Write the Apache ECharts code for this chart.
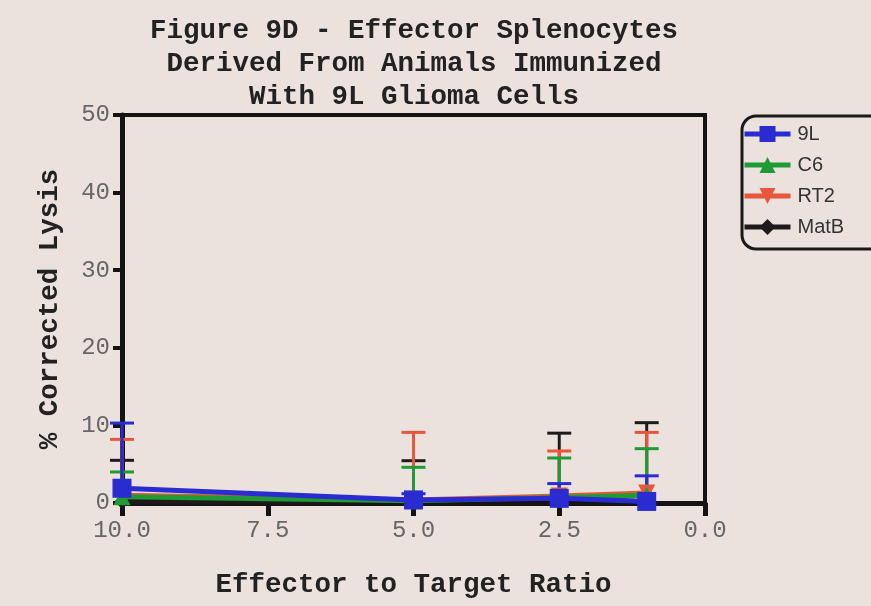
<!DOCTYPE html>
<html>
<head>
<meta charset="utf-8">
<script src="https://cdn.jsdelivr.net/npm/echarts@6/dist/echarts.min.js"></script>
<style>
  html, body { margin: 0; padding: 0; background: #ebe2dd; }
  #chart { width: 871px; height: 606px; }
</style>
</head>
<body>
<div id="chart"></div>
<script>
// effector : target ratios
const ratios = [10, 5, 2.5, 1];
const seriesNames = ['9L', 'C6', 'RT2', 'MatB'];

// mean % corrected lysis
const lysis9L = [1.9, 0.4, 0.6, 0.2];
const lysisC6 = [0.8, 0.3, 0.7, 1.0];
const lysisRT2 = [1.0, 0.4, 0.9, 1.3];
const lysisMatB = [0.2, 0.3, 0.6, 1.0];

// upper error (added to mean)
const err9L = [8.4, 0.8, 1.9, 3.3];
const errC6 = [3.2, 4.3, 5.1, 6.0];
const errRT2 = [7.2, 8.7, 5.8, 7.8];
const errMatB = [5.3, 5.15, 8.4, 9.35];

const xTicks = [0, 2.5, 5, 7.5, 10];
const yTicks = [0, 10, 20, 30, 40, 50];

const colors = {
  '9L': '#2b2bd2',
  'C6': '#1f9a34',
  'RT2': '#e8573c',
  'MatB': '#1e1a1c'
};
const symbols = {
  '9L': ['rect', 19],
  'C6': ['triangle', 17],
  'RT2': ['path://M0,0 L10,0 L5,10 Z', 17],
  'MatB': ['diamond', 15]
};
const means = { '9L': lysis9L, 'C6': lysisC6, 'RT2': lysisRT2, 'MatB': lysisMatB };
const errs = { '9L': err9L, 'C6': errC6, 'RT2': errRT2, 'MatB': errMatB };

const chart = echarts.init(document.getElementById('chart'));

function errorBar (params, api) {
  const x = api.value(0);
  const p0 = api.coord([x, api.value(1)]);
  const p1 = api.coord([x, api.value(2)]);
  const half = 12;
  const style = { stroke: api.visual('color'), lineWidth: 3 };
  return {
    type: 'group',
    children: [
      { type: 'line', shape: { x1: p0[0], y1: p0[1], x2: p1[0], y2: p1[1] }, style: style },
      { type: 'line', shape: { x1: p1[0] - half, y1: p1[1], x2: p1[0] + half, y2: p1[1] }, style: style }
    ]
  };
}

const monoBold = { fontFamily: 'Liberation Mono', fontWeight: 'bold', fontSize: 27.5, color: '#222' };

// draw in reverse so 9L sits on top
const drawOrder = seriesNames.slice().reverse();
const series = [];
drawOrder.forEach(function (name) {
  series.push({
    name: name + ' err',
    type: 'custom',
    renderItem: errorBar,
    itemStyle: { color: colors[name] },
    encode: { x: 0, y: [1, 2] },
    data: ratios.map((r, i) => [r, means[name][i], means[name][i] + errs[name][i]]),
    z: 3,
    clip: false
  });
});
drawOrder.forEach(function (name) {
  series.push({
    name: name,
    type: 'line',
    data: ratios.map((r, i) => [r, means[name][i]]),
    symbol: symbols[name][0],
    symbolSize: symbols[name][1],
    showAllSymbol: true,
    lineStyle: { color: colors[name], width: 5 },
    itemStyle: { color: colors[name] },
    z: 4,
    clip: false
  });
});

const option = {
  backgroundColor: '#ebe2dd',
  animation: false,
  title: {
    text: 'Figure 9D - Effector Splenocytes\nDerived From Animals Immunized\nWith 9L Glioma Cells',
    left: 409,
    top: 10,
    textAlign: 'center',
    textStyle: Object.assign({}, monoBold, { lineHeight: 33 })
  },
  legend: {
    data: seriesNames,
    orient: 'vertical',
    left: 742,
    top: 116,
    padding: [8, 60, 12, 0],
    itemWidth: 46,
    itemHeight: 20,
    itemGap: 11,
    lineStyle: { width: 5 },
    borderColor: '#1a1a1a',
    borderWidth: 3,
    borderRadius: 14,
    textStyle: { fontFamily: 'Liberation Sans', fontSize: 20, color: '#333', padding: [0, 0, 0, 2] }
  },
  grid: {
    left: 122,
    right: 166,
    top: 115,
    bottom: 103,
    show: true,
    borderColor: '#141414',
    borderWidth: 4,
    backgroundColor: 'transparent'
  },
  xAxis: {
    type: 'value',
    inverse: true,
    min: 0,
    max: 10,
    interval: 2.5,
    name: 'Effector to Target Ratio',
    nameLocation: 'middle',
    nameGap: 68,
    nameTextStyle: monoBold,
    axisLine: { show: true, onZero: false, lineStyle: { color: '#141414', width: 5 } },
    axisTick: { show: true, length: 13, lineStyle: { color: '#141414', width: 5 } },
    axisLabel: {
      margin: 16,
      fontFamily: 'Liberation Mono',
      fontSize: 24,
      color: '#666',
      formatter: v => xTicks.indexOf(v) >= 0 ? v.toFixed(1) : ''
    },
    splitLine: { show: false }
  },
  yAxis: {
    type: 'value',
    min: 0,
    max: 50,
    interval: 10,
    name: '% Corrected Lysis',
    nameLocation: 'middle',
    nameGap: 58,
    nameRotate: 90,
    nameTextStyle: monoBold,
    axisLine: { show: true, onZero: false, lineStyle: { color: '#141414', width: 5 } },
    axisTick: { show: true, length: 9, lineStyle: { color: '#141414', width: 4 } },
    axisLabel: {
      margin: 12,
      fontFamily: 'Liberation Mono',
      fontSize: 24,
      color: '#666',
      formatter: v => yTicks.indexOf(v) >= 0 ? String(v) : ''
    },
    splitLine: { show: false }
  },
  series: series
};

chart.setOption(option);
</script>
</body>
</html>
